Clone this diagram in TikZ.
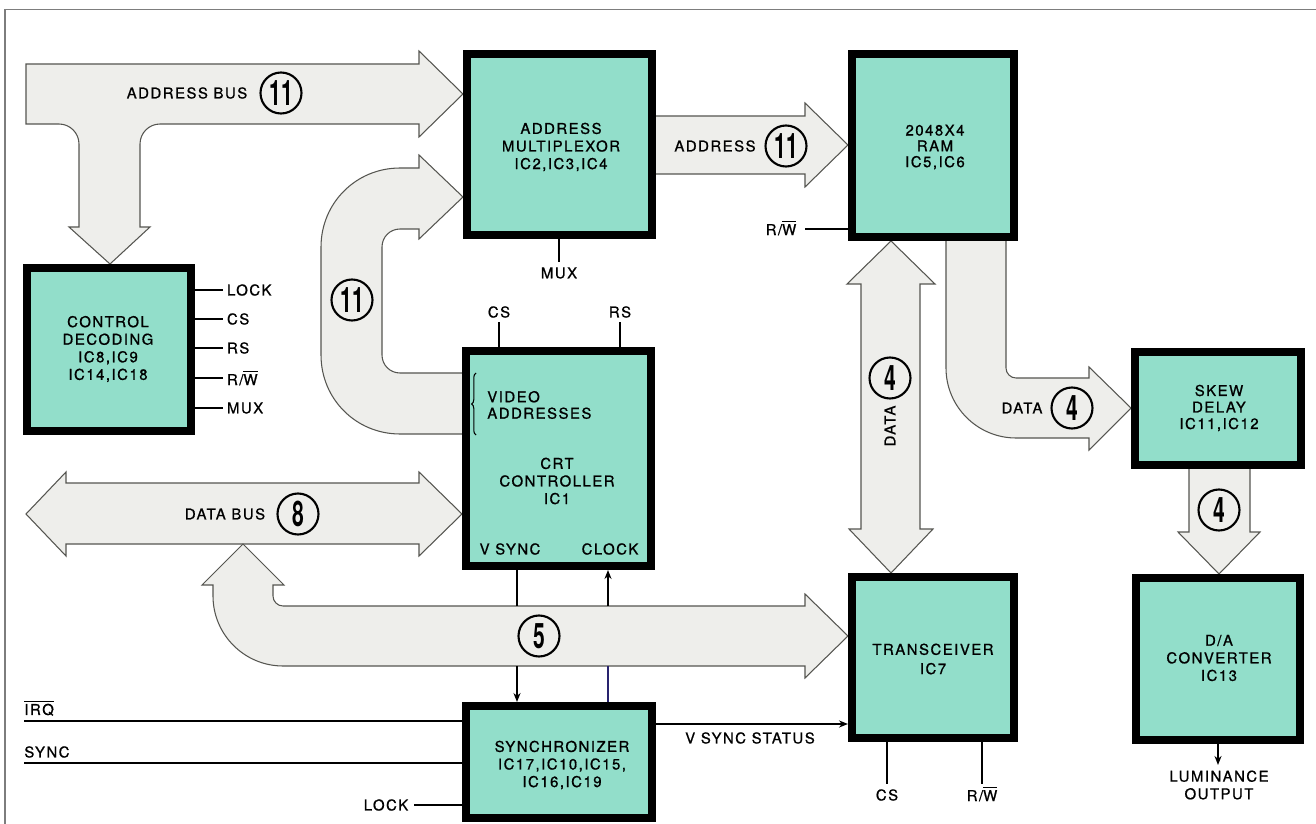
\documentclass[tikz,border=0pt]{standalone}
\usepackage{fontspec}
\usepackage{graphicx}
\usetikzlibrary{arrows.meta,decorations.pathreplacing}
\newfontfamily\lbl{TeX Gyre Heros}[LetterSpace=10,FakeBold=0.9]
\newfontfamily\numf{TeX Gyre Heros}
\definecolor{boxteal}{RGB}{146,222,202}
\definecolor{busfill}{RGB}{238,238,235}
\definecolor{busline}{RGB}{85,85,80}
\definecolor{framegray}{RGB}{125,125,125}
\definecolor{clkblue}{RGB}{40,35,110}
\newcommand\ovl[1]{$\overline{\hbox{#1}}$}
\newcommand\cnum[1]{\scalebox{0.6}[1]{\numf\bfseries\fontsize{20}{20}\selectfont #1}}
\begin{document}
\begin{tikzpicture}[x=0.02cm,y=-0.02cm,
  lab/.style={font={\lbl\fontsize{8.5}{10}\selectfont}, inner sep=0pt, align=center},
  blk/.style={draw=black, line width=0.16cm, fill=boxteal, inner sep=0pt},
  bus/.style={fill=busfill, draw=busline, line width=0.6pt, line join=miter},
  pin/.style={draw=black, line width=1.2pt},
  sig/.style={draw=black, line width=1.2pt, -{Stealth[length=0.18cm,width=0.14cm]}},
  num/.style={circle, draw=black, line width=1.2pt, minimum size=0.82cm, inner sep=0pt, fill=busfill},
]
\useasboundingbox (0,0) rectangle (1316,824);
\fill[white] (0,0) rectangle (1316,824);
% frame
\draw[framegray, line width=0.03cm] (1316,9.5) -- (5,9.5) -- (5,824);

% ---- fat buses ----
% address bus (T)
\draw[bus] (26,64) -- (419,64) -- (419,51) -- (463,94) -- (419,137) -- (419,124) -- (160,124)
  .. controls (149,124) and (140,133) .. (140,144) -- (140,227) -- (150,227) -- (110,264)
  -- (69,227) -- (79,227) -- (79,144) .. controls (79,133) and (70,124) .. (59,124) -- (26,124) -- cycle;
% address mux -> ram
\draw[bus] (650,116) -- (805,116) -- (805,103) -- (848,145) -- (805,187) -- (805,174) -- (650,174) -- cycle;
% video addresses U
\draw[bus] (466,373) -- (400,373) .. controls (390,373) and (382,365) .. (382,355) -- (382,247)
  .. controls (382,237) and (390,229) .. (400,229) -- (419,229) -- (419,239) -- (463,197) -- (419,155)
  -- (419,168) -- (400,168) .. controls (356,168) and (321,203) .. (321,247) -- (321,355)
  .. controls (321,399) and (356,434) .. (400,434) -- (466,434) -- cycle;
% data bus
\draw[bus] (26,514) -- (66,472) -- (66,483) -- (419,483) -- (419,472) -- (462,514) -- (419,556)
  -- (419,544) -- (66,544) -- (66,556) -- cycle;
% lower bus (5)
\draw[bus] (243,544) -- (284,585) -- (273,585) -- (273,596) .. controls (273,601.5) and (277.5,606) .. (283,606)
  -- (805,606) -- (805,594) -- (848,636) -- (805,678) -- (805,666) -- (283,666)
  .. controls (244.4,666) and (213,634.6) .. (213,596) -- (213,585) -- (202,585) -- cycle;
% ram <-> transceiver
\draw[bus] (891,241) -- (935,284) -- (920,284) -- (920,529) -- (933,529) -- (891,573) -- (849,529)
  -- (861,529) -- (861,284) -- (847,284) -- cycle;
% ram -> skew
\draw[bus] (946,236) -- (1006,236) -- (1006,368) .. controls (1006,373.5) and (1010.5,378) .. (1016,378)
  -- (1089,378) -- (1089,367) -- (1131,408) -- (1089,450) -- (1089,438) -- (1016,438)
  .. controls (977.4,438) and (946,406.6) .. (946,368) -- cycle;
% skew -> dac
\draw[bus] (1189,465) -- (1250,465) -- (1250,532) -- (1260,532) -- (1219,574) -- (1178,532) -- (1189,532) -- cycle;

% ---- boxes ----
\node[blk, minimum width=3.28cm, minimum height=3.26cm] (ctrl) at (109,349.5) {};
\node[blk, minimum width=3.70cm, minimum height=3.62cm] (mux) at (559.5,144.5) {};
\node[blk, minimum width=3.24cm, minimum height=3.66cm] (ram) at (933,145.5) {};
\node[blk, minimum width=3.70cm, minimum height=4.30cm] (crt) at (558.5,458.5) {};
\node[blk, minimum width=3.72cm, minimum height=2.24cm] (sync) at (559,762) {};
\node[blk, minimum width=3.24cm, minimum height=3.22cm] (trans) at (933,657.5) {};
\node[blk, minimum width=3.32cm, minimum height=2.26cm] (skew) at (1218,408.5) {};
\node[blk, minimum width=3.28cm, minimum height=3.24cm] (dac) at (1218,659) {};

% box texts
\node[lab] (ctrlT) at (108,349) {CONTROL\\DECODING\\IC8,IC9\\IC14,IC18};
\node[lab] (muxT) at (561,147) {ADDRESS\\MULTIPLEXOR\\IC2,IC3,IC4};
\node[lab, font={\lbl\fontsize{8.5}{9}\selectfont}] (ramT) at (935,147) {2048X4\\RAM\\IC5,IC6};
\node[lab] (crtT) at (557,481) {CRT\\CONTROLLER\\IC1};
\node[lab, anchor=west, align=left, font={\lbl\fontsize{8.5}{9.4}\selectfont}] (vidT) at (487,405) {VIDEO\\ADDRESSES};
\node[lab] (vsT) at (510,549) {V SYNC};
\node[lab] (clkT) at (610,549) {CLOCK};
\node[lab] (syncT) at (562,765) {SYNCHRONIZER\\IC17,IC10,IC15,\\IC16,IC19};
\node[lab, font={\lbl\fontsize{8.5}{11}\selectfont}] (transT) at (933,659) {TRANSCEIVER\\IC7};
\node[lab, font={\lbl\fontsize{8.5}{9.4}\selectfont}] (skewT) at (1219,408) {SKEW\\DELAY\\IC11,IC12};
\node[lab] (dacT) at (1219,658) {D/A\\CONVERTER\\IC13};
\draw[line width=0.6pt, decorate, decoration={brace, amplitude=2.5pt}] (476,435) -- (476,373);

% ---- bus labels ----
\node[lab] (abL) at (187,93) {ADDRESS BUS};
\node[num] (abN) at (281,93) {\cnum{11}};
\node[lab] (adL) at (715,146) {ADDRESS};
\node[num] (adN) at (786,146) {\cnum{11}};
\node[num] (vaN) at (352,300) {\cnum{11}};
\node[lab] (dbL) at (225,514) {DATA BUS};
\node[num] (dbN) at (298,514) {\cnum{8}};
\node[num] (n5) at (539,636) {\cnum{5}};
\node[num] (n4a) at (890,378) {\cnum{4}};
\node[lab, rotate=90] (dataV) at (890,426) {DATA};
\node[lab] (dataH) at (1022,408) {DATA};
\node[num] (n4b) at (1072,408) {\cnum{4}};
\node[num] (n4c) at (1219,510) {\cnum{4}};

% ---- control decoding pins ----
\draw[pin] (ctrl.east |- 0,290) -- (223,290) node[lab, anchor=west, xshift=0.06cm] (pLock) {LOCK};
\draw[pin] (ctrl.east |- 0,319) -- (223,319) node[lab, anchor=west, xshift=0.06cm] (pCS) {CS};
\draw[pin] (ctrl.east |- 0,348) -- (223,348) node[lab, anchor=west, xshift=0.06cm] (pRS) {RS};
\draw[pin] (ctrl.east |- 0,378) -- (223,378) node[lab, anchor=west, xshift=0.06cm] (pRW) {R/\ovl{W}};
\draw[pin] (ctrl.east |- 0,408) -- (223,408) node[lab, anchor=west, xshift=0.06cm] (pMux) {MUX};

% mux pin
\draw[pin] (mux.south -| 559,0) -- (559,262);
\node[lab] (muxP) at (559,273) {MUX};
% crt pins
\draw[pin] (crt.north -| 499,0) -- (499,322);
\node[lab] (crtCS) at (499,312) {CS};
\draw[pin] (crt.north -| 620,0) -- (620,322);
\node[lab] (crtRS) at (620,312) {RS};
% ram r/w
\draw[pin] (ram.west |- 0,229) -- (805,229);
\node[lab] (ramRW) at (781,228) {R/\ovl{W}};
% v sync and clock through bus 5
\draw[pin] (crt.south -| 517,0) -- (517,606);
\draw[sig] (517,666) -- (sync.north -| 517,0);
\draw[pin, draw=clkblue] (sync.north -| 608,0) -- (608,666);
\draw[sig] (608,606) -- (crt.south -| 608,0);
% inputs to synchronizer
\draw[pin, line width=1.5pt] (24,721) -- (sync.west |- 0,721);
\node[lab, anchor=west] (irqL) at (24,708) {\ovl{IRQ}};
\draw[pin, line width=1.5pt] (24,763) -- (sync.west |- 0,763);
\node[lab, anchor=west] (syncL) at (24,752) {SYNC};
\draw[pin] (414,805) -- (sync.west |- 0,805);
\node[lab] (lockL) at (386,805) {LOCK};
% v sync status
\draw[sig] (sync.east |- 0,724) -- (trans.west |- 0,724);
\node[lab] (vssL) at (750,738) {V SYNC STATUS};
% transceiver pins
\draw[pin] (trans.south -| 887,0) -- (887,784);
\node[lab] (trCS) at (887,795) {CS};
\draw[pin] (trans.south -| 982,0) -- (982,784);
\node[lab] (trRW) at (982,794) {R/\ovl{W}};
% luminance output
\draw[sig] (dac.south) -- ++(0,21);
\node[lab] (lumL) at (1219,785) {LUMINANCE\\OUTPUT};
\end{tikzpicture}
\end{document}
